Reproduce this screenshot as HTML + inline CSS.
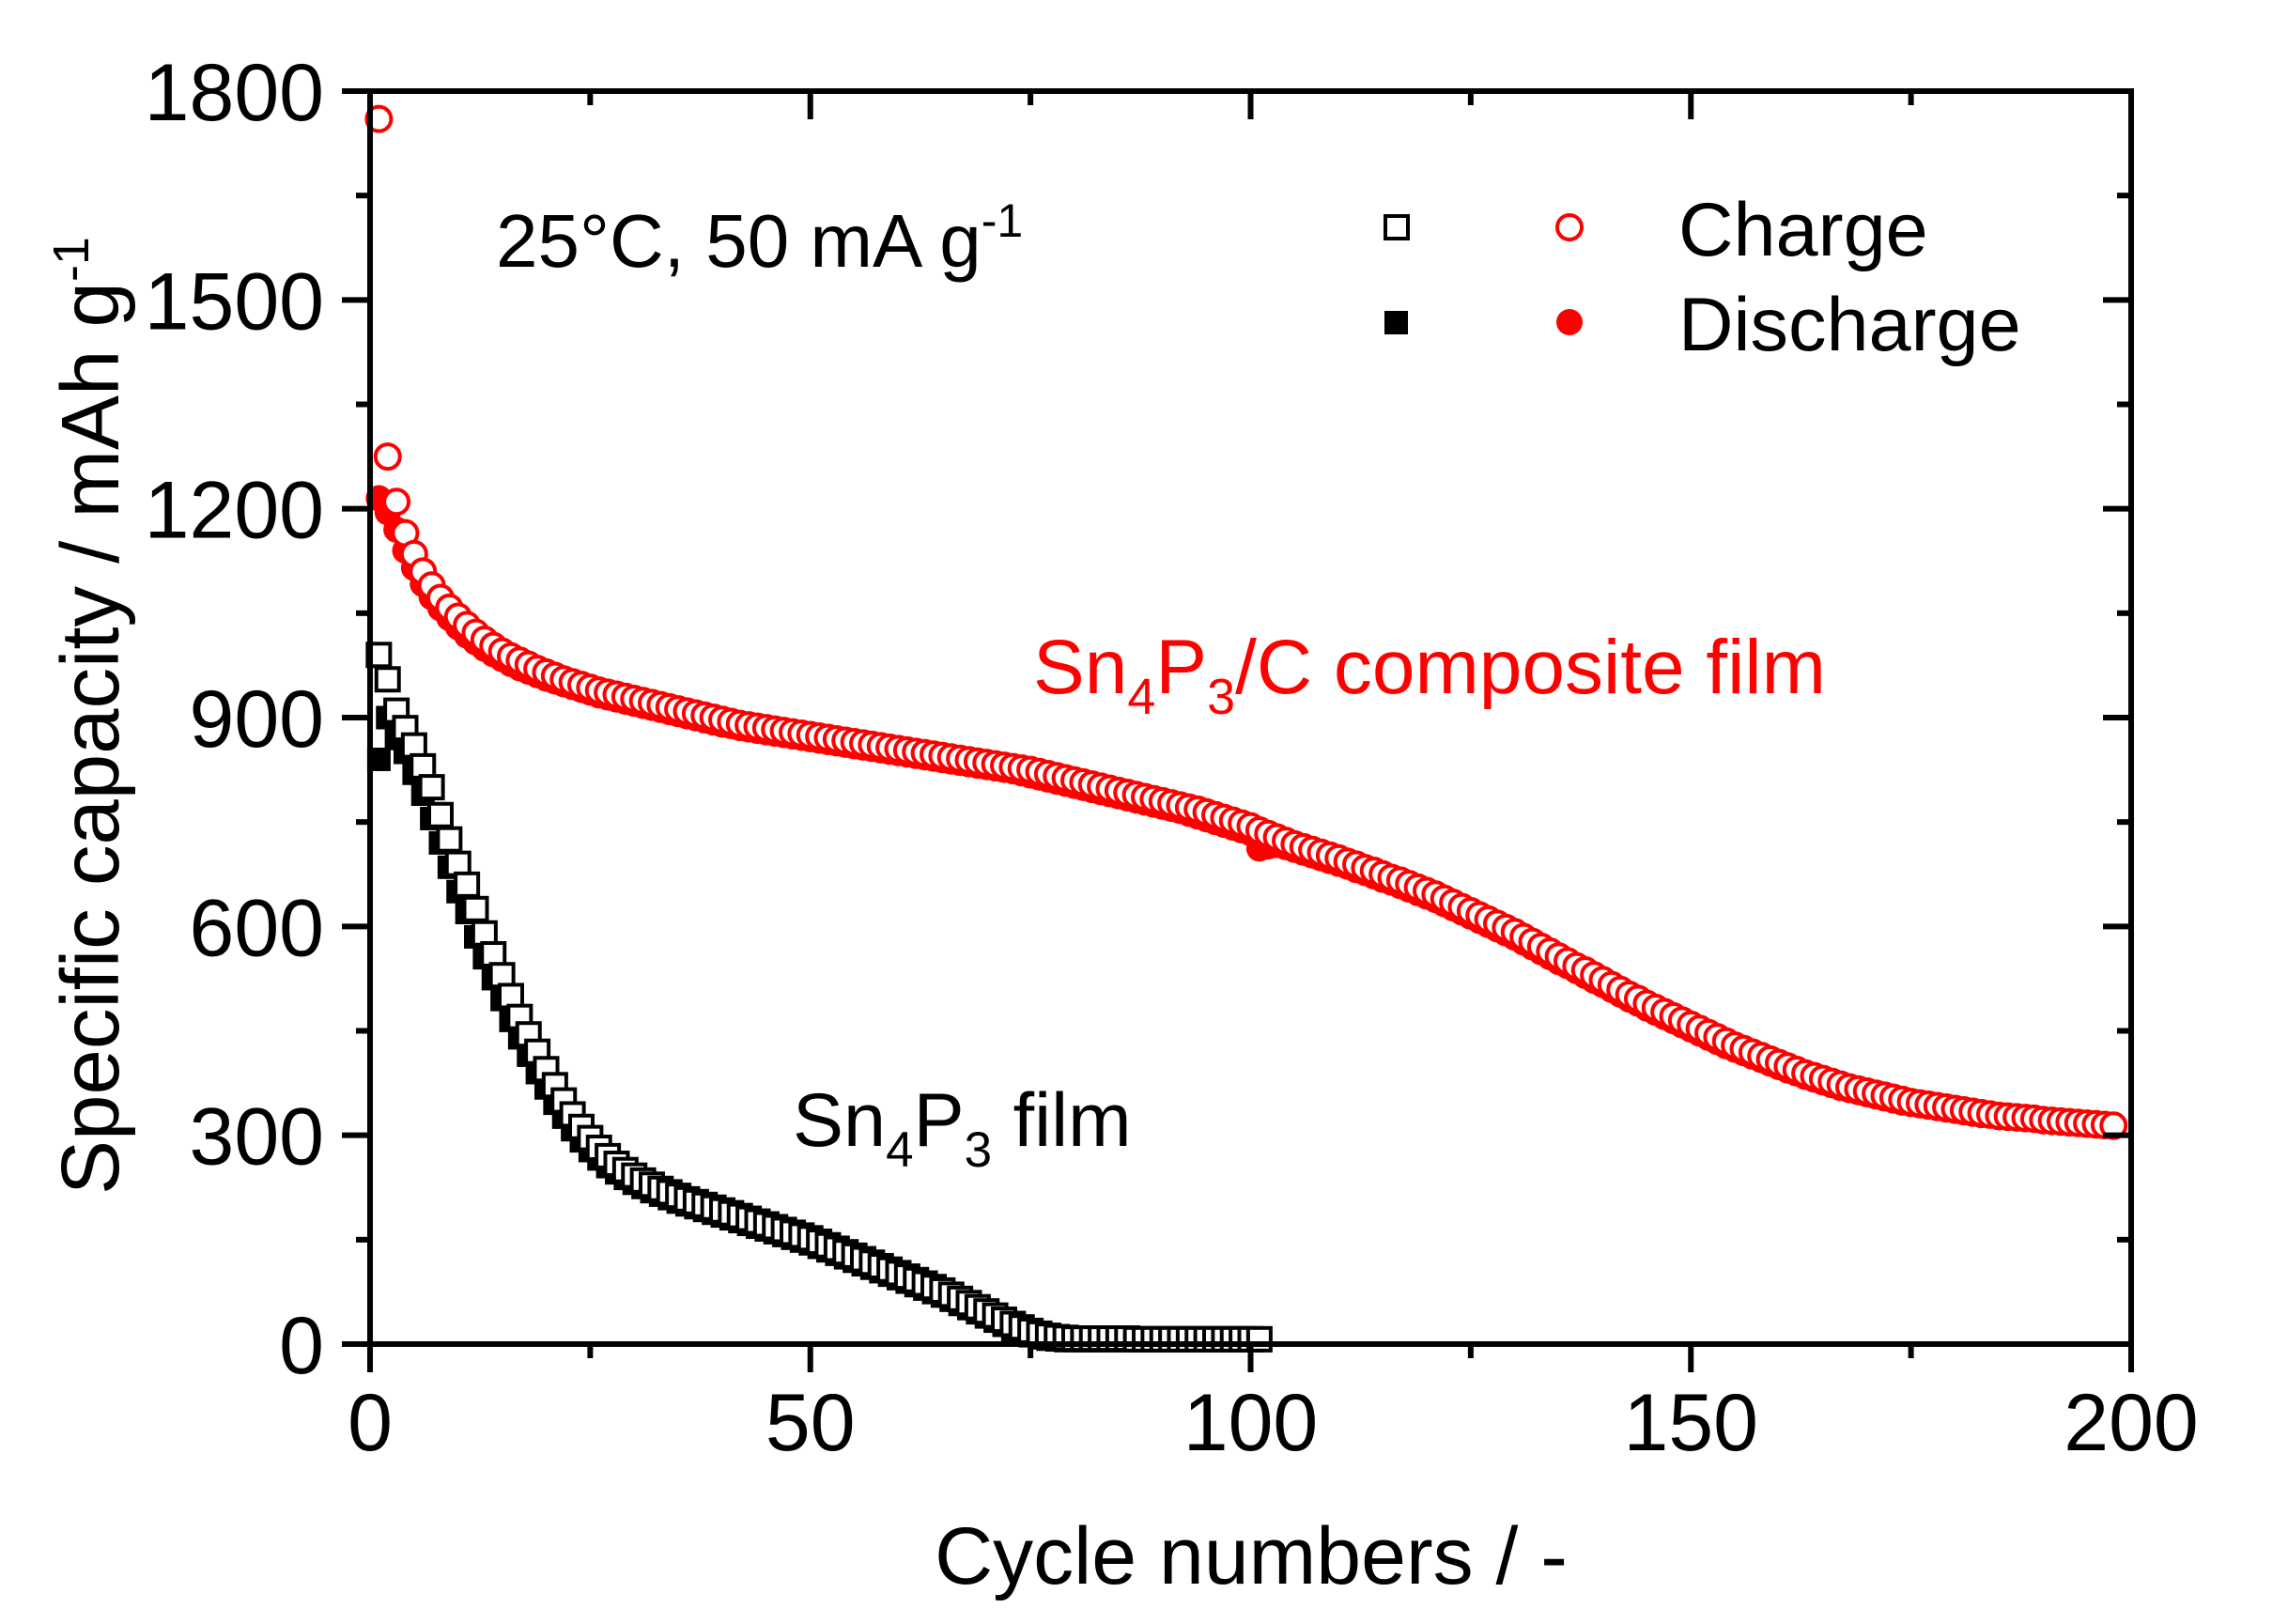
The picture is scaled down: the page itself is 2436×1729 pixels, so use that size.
<!DOCTYPE html>
<html><head><meta charset="utf-8"><style>
html,body{margin:0;padding:0;background:#fff;}
svg{display:block;font-family:"Liberation Sans",Arial,sans-serif;}
</style></head><body>
<svg id="chart" width="2436" height="1729" viewBox="0 0 2436 1729" xmlns="http://www.w3.org/2000/svg">
<rect width="2436" height="1729" fill="#fff"/>
<g id="marks"></g>
<g id="axes"></g>
<text x="528" y="284" font-size="80">25°C, 50 mA g<tspan dy="-32" font-size="50">-1</tspan></text>
<g>
<rect x="1475" y="230" width="24" height="24" fill="none" stroke="#000" stroke-width="4"/>
<circle cx="1671" cy="242" r="13" fill="none" stroke="#f00" stroke-width="4"/>
<text x="1787" y="272" font-size="81">Charge</text>
<rect x="1474" y="331" width="25" height="25" fill="#000"/>
<circle cx="1671" cy="343" r="14" fill="#f00"/>
<text x="1787" y="373" font-size="81">Discharge</text>
</g>
<text x="1100" y="738" font-size="82" fill="#f00">Sn<tspan dy="22" font-size="54">4</tspan><tspan dy="-22">P</tspan><tspan dy="22" font-size="54">3</tspan><tspan dy="-22">/C composite film</tspan></text>
<text x="844" y="1220" font-size="81" fill="#000">Sn<tspan dy="22" font-size="53">4</tspan><tspan dy="-22">P</tspan><tspan dy="22" font-size="53">3</tspan><tspan dy="-22"> film</tspan></text>
<text x="1332" y="1686" font-size="86" text-anchor="middle">Cycle numbers / -</text>
<text transform="translate(126,762) rotate(-90)" font-size="87" text-anchor="middle">Specific capacity / mAh g<tspan dy="-32" font-size="54">-1</tspan></text>
</svg>
<script>
const xTicks=[0,50,100,150,200];
const yTicks=[0,300,600,900,1200,1500,1800];
const redCharge=[1760,1275,1210,1165,1135,1110,1090,1072,1058,1045,1033,1022,1012,1003,995,988,982,976,970,965,
960,955,951,947,943,939,936,933,930,927,924,921,918,915,912,909,906,903,900,897,
894,891,889,887,885,883,881,879,877,875,873,871,869,867,865,863,861,859,857,855,
853,851,849,847,845,843,841,839,837,835,833,831,829,827,825,822,819,816,813,810,
807,804,801,798,795,792,789,786,783,780,777,774,771,768,764,760,756,752,748,744,
738,733,728,723,718,714,710,706,702,698,693,689,684,680,675,670,666,661,656,651,
646,640,634,628,622,616,610,604,598,592,585,578,571,564,557,550,543,537,530,523,
516,509,502,496,489,483,477,471,465,459,453,447,441,435,429,424,419,414,409,404,
399,394,389,385,381,377,373,369,366,363,360,357,354,351,348,346,344,342,340,338,
336,334,332,330,328,327,326,325,324,322,321,320,319,318,317,316,315,314];
const redDischarge=[1215,1195,1170,1140,1115,1092,1073,1057,1043,1030,1018,1008,999,991,984,977,971,966,961,956,
952,948,944,940,936,932,929,926,923,920,917,914,911,908,905,902,899,896,893,890,
888,885,883,881,879,877,875,873,871,869,867,865,863,861,859,857,855,853,851,849,
847,845,843,841,839,837,835,833,831,829,827,825,823,820,817,814,811,808,805,802,
799,796,793,790,787,784,781,778,775,772,769,766,762,758,754,750,746,742,738,734,
712,715,717,714,710,706,702,698,694,690,686,681,677,672,667,663,658,653,648,643,
638,632,626,620,614,608,602,596,590,584,577,570,563,556,549,543,536,529,522,516,
509,502,495,489,482,476,470,464,458,452,446,440,434,428,423,418,413,408,403,398,
393,389,384,380,376,372,368,365,362,359,356,353,350,347,345,343,341,339,337,335,
333,331,329,328,326,325,324,323,322,320,319,318,317,316,315,314,313,312];
const blackCharge=[990,955,910,885,860,830,800,760,725,690,660,625,590,560,530,500,470,445,420,395,
372,350,330,312,296,282,270,259,250,242,235,229,223,218,213,208,204,200,196,192,
188,184,180,176,172,168,164,160,156,152,147,142,137,132,127,122,117,112,107,102,
97,92,87,82,77,71,65,59,53,47,41,35,29,24,19,15,12,10,9,8,
8,8,8,8,8,8,7,7,7,7,7,7,7,7,7,7,7,7,7,7,7];
const blackDischarge=[840,900,870,850,820,790,755,720,685,650,620,585,555,525,495,465,440,415,390,368,
346,326,308,292,278,266,255,246,238,231,225,219,214,209,204,200,196,192,188,184,
180,176,172,168,164,160,156,152,148,144,139,134,129,124,119,114,109,104,99,94,
89,84,79,74,69,63,57,51,45,39,33,27,21,16,12,9,7,6,5,5,
5,5,5,5,5,5,5,5,5,5,5,5,5,5,5,5,5,5,5,5,5];

const NS='http://www.w3.org/2000/svg';
const X0=394,X1=2269,Y0=1431,Y1=97;
function xs(v){return X0+(v-0)/(200-0)*(X1-X0);}
function ys(v){return Y0-(v-0)/(1800-0)*(Y0-Y1);}
const marks=document.getElementById('marks');
const axes=document.getElementById('axes');
function mk(tag,attrs,parent){const e=document.createElementNS(NS,tag);for(const k in attrs)e.setAttribute(k,attrs[k]);parent.appendChild(e);return e;}

blackDischarge.forEach((v,i)=>{
  const e=mk('rect',{x:xs(i+1)-12.5,y:ys(v)-12.5,width:25,height:25,fill:'#000'},marks);
  
  
});
blackCharge.forEach((v,i)=>{
  const e=mk('rect',{x:xs(i+1)-12,y:ys(v)-12,width:24,height:24,fill:'#fff',stroke:'#000','stroke-width':4},marks);
  
  
});
redDischarge.forEach((v,i)=>{
  const e=mk('circle',{cx:xs(i+1),cy:ys(v),r:14,fill:'#f00'},marks);
  
  
});
redCharge.forEach((v,i)=>{
  const e=mk('circle',{cx:xs(i+1),cy:ys(v),r:13,fill:'#fff',stroke:'#f00','stroke-width':4},marks);
  
  
});

const fr=mk('rect',{x:X0,y:Y1,width:X1-X0,height:Y0-Y1,fill:'none',stroke:'#000','stroke-width':6},axes);



for(let v=0;v<=200;v+=25){
  const major=v%50===0, L=major?30:15, x=xs(v);
  const t=mk('line',{x1:x,y1:Y0,x2:x,y2:Y0+L,stroke:'#000','stroke-width':6},axes);
  
  
  const t2=mk('line',{x1:x,y1:Y1,x2:x,y2:Y1+L,stroke:'#000','stroke-width':6},axes);
  
  
}
xTicks.forEach(v=>{
  const t=mk('text',{x:xs(v),y:1544,'font-size':86,'text-anchor':'middle'},axes);
  t.textContent=v;
  
  
});
for(let v=0;v<=1800;v+=150){
  const major=v%300===0, L=major?30:15, y=ys(v);
  const t=mk('line',{x1:X0,y1:y,x2:X0-L,y2:y,stroke:'#000','stroke-width':6},axes);
  
  
  const t2=mk('line',{x1:X1,y1:y,x2:X1-L,y2:y,stroke:'#000','stroke-width':6},axes);
  
  
}
yTicks.forEach(v=>{
  const t=mk('text',{x:345,y:ys(v)+31,'font-size':86,'text-anchor':'end'},axes);
  t.textContent=v;
  
  
});
</script>
</body></html>
